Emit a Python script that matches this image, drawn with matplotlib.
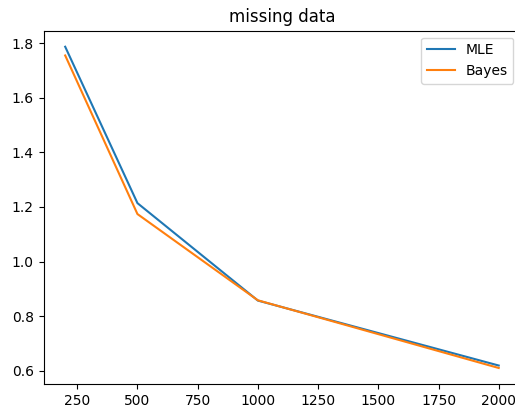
import matplotlib
matplotlib.use("Agg")
import matplotlib.pyplot as plt

sizes = [200, 500, 1000, 2000]
mle = [1.787, 1.214, 0.857, 0.619]
bayes = [1.755, 1.174, 0.858, 0.610]

fig = plt.figure(figsize=(5.15, 4.09), dpi=100)
# the right spine falls just outside the saved image in the original
ax = fig.add_axes([0.0845, 0.061, 0.926, 0.864])
ax.plot(sizes, mle, label="MLE")
ax.plot(sizes, bayes, label="Bayes")
ax.set_title("missing data")
ax.legend()
fig.savefig("out.png", dpi=100)
